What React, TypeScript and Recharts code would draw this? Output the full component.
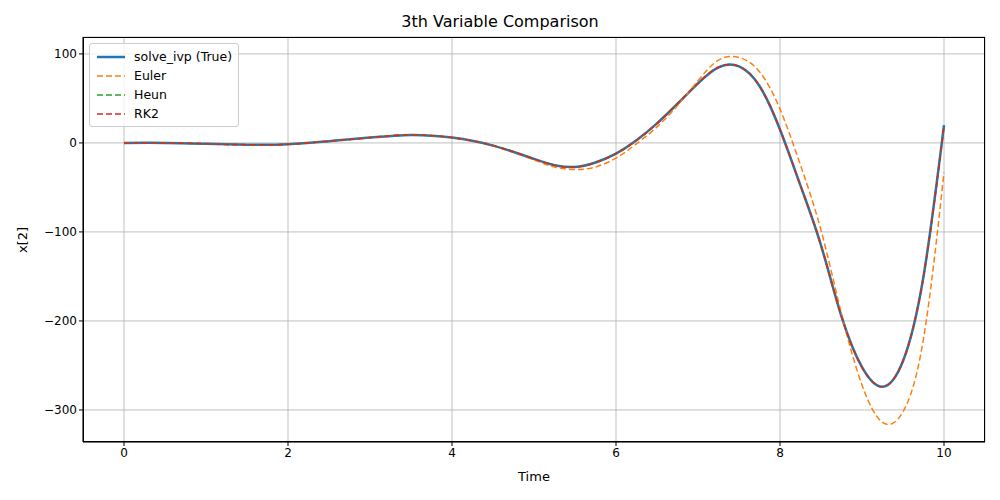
import React from "react";
import { LineChart, Line, XAxis, YAxis, CartesianGrid } from "recharts";

const times = [0, 0.5, 1, 1.5, 2, 2.5, 3, 3.5, 4, 4.5, 5, 5.25, 5.5, 5.75, 6, 6.25, 6.5, 6.75, 7, 7.25, 7.5, 7.75, 8, 8.25, 8.5, 8.75, 9, 9.25, 9.5, 9.75, 10];
const trueVals = [0, 0, -1, -2, -1.5, 2, 6, 9, 6, -3, -18, -25, -27, -22, -12, 3, 22, 44, 67, 85, 86, 64, 15, -48, -115, -195, -252, -274, -245, -150, 20];
const eulerVals = [0, 0, -1, -2, -1.5, 2, 6, 9, 6, -3, -19, -27, -30, -27, -17, -1, 18, 42, 70, 93, 96, 80, 38, -25, -98, -192, -272, -314, -302, -220, -33];
const heunVals = [0, 0, -1, -2, -1.5, 2, 6, 9, 6, -3, -18, -25, -27, -22, -12, 3, 22, 44, 67, 85, 86, 64, 15, -48, -115, -195, -252, -274, -245, -150, 19];
const rk2Vals = [0, 0, -1, -2, -1.5, 2, 6, 9, 6, -3, -18, -25, -27, -22, -12, 3, 22, 44, 67, 85, 86, 64, 15, -48, -115, -195, -252, -274, -245, -150, 19];
const xTicks = [0, 2, 4, 6, 8, 10];
const yTicks = [-300, -200, -100, 0, 100];

const data = times.map((t, i) => ({
  t,
  truth: trueVals[i],
  euler: eulerVals[i],
  heun: heunVals[i],
  rk2: rk2Vals[i],
}));

const fmt = (v: number) => (v < 0 ? "\u2212" + Math.abs(v) : String(v));

const legendItems = [
  { label: "solve_ivp (True)", color: "#1f77b4", dash: undefined, w: 2.5 },
  { label: "Euler", color: "#ff7f0e", dash: "6 3", w: 1.5 },
  { label: "Heun", color: "#2ca02c", dash: "6 3", w: 1.5 },
  { label: "RK2", color: "#d62728", dash: "6 3", w: 1.5 },
];

export default function App() {
  return (
    <div style={{ position: "absolute", left: 0, top: 0, width: 1000, height: 500, fontFamily: "DejaVu Sans", background: "#fff" }}>
      <div style={{ position: "absolute", top: 12, width: 1000, textAlign: "center", fontSize: 16 }}>3th Variable Comparison</div>
      <div style={{ position: "absolute", top: 469, left: 83, width: 902, textAlign: "center", fontSize: 13 }}>Time</div>
      <div style={{ position: "absolute", left: 22, top: 240, fontSize: 13, transform: "translate(-50%,-50%) rotate(-90deg)" }}>x[2]</div>
      <LineChart width={1000} height={500} data={data} margin={{ top: 37, right: 15, bottom: 28, left: 23 }}>
        <CartesianGrid stroke="#b0b0b0" strokeWidth={0.8} />
        <XAxis dataKey="t" type="number" domain={[-0.5, 10.5]} ticks={xTicks} height={30}
          tick={{ fill: "#000", fontSize: 12 }} stroke="#000" tickSize={4} />
        <YAxis type="number" domain={[-336, 119]} ticks={yTicks} width={60} tickFormatter={fmt}
          tick={{ fill: "#000", fontSize: 12 }} stroke="#000" tickSize={4} />
        <Line dataKey="truth" type="natural" stroke="#1f77b4" strokeWidth={2.5} dot={false} isAnimationActive={false} />
        <Line dataKey="euler" type="natural" stroke="#ff7f0e" strokeWidth={1.5} strokeDasharray="6 3" dot={false} isAnimationActive={false} />
        <Line dataKey="heun" type="natural" stroke="#2ca02c" strokeWidth={1.5} strokeDasharray="6 3" dot={false} isAnimationActive={false} />
        <Line dataKey="rk2" type="natural" stroke="#d62728" strokeWidth={1.5} strokeDasharray="6 3" dot={false} isAnimationActive={false} />
      </LineChart>
      <div style={{ position: "absolute", left: 83, top: 37, width: 902, height: 405, boxSizing: "border-box", border: "1px solid #000", pointerEvents: "none" }} />
      <div style={{ position: "absolute", left: 89, top: 43, border: "1px solid #ccc", borderRadius: 3, background: "rgba(255,255,255,0.8)", padding: "3px 6px", fontSize: 12.5 }}>
        {legendItems.map((it) => (
          <div key={it.label} style={{ display: "flex", alignItems: "center", height: 19 }}>
            <svg width={30} height={10} style={{ marginRight: 8 }}>
              <line x1={1} y1={5} x2={29} y2={5} stroke={it.color} strokeWidth={it.w} strokeDasharray={it.dash} />
            </svg>
            {it.label}
          </div>
        ))}
      </div>
    </div>
  );
}
